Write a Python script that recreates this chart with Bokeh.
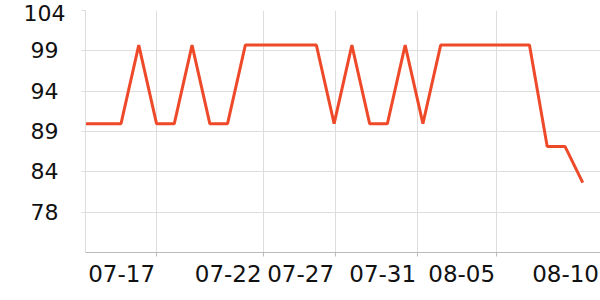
from bokeh.plotting import figure
from bokeh.models import Range1d, FixedTicker
from bokeh.embed import file_html
from bokeh.resources import INLINE

# data
idx = list(range(29))
values = [90, 90, 90, 100, 90, 90, 100, 90, 90, 100, 100, 100, 100, 100, 90,
          100, 90, 90, 100, 90, 100, 100, 100, 100, 100, 100, 87.1, 87.1, 82.5]

x_tick_pos = [4.0, 10.0, 14.08, 18.7, 23.15, 29.0]
x_tick_labels = ["07-17", "07-22", "07-27", "07-31", "08-05", "08-10"]
x_grid_pos = [4.0, 10.0, 14.08, 18.7, 23.15]

y_min, y_max = 73.6, 104.4
y_tick_pos = [78.73, 83.87, 89.0, 94.13, 99.27, 104.4]
y_tick_labels = ["78", "84", "89", "94", "99", "104"]

FONT = "DejaVu Sans"

p = figure(width=600, height=300, output_backend="svg", toolbar_location=None,
           x_range=Range1d(0, 29), y_range=Range1d(y_min, y_max))
p.min_border = 0
p.min_border_left = 85
p.min_border_right = 0
p.min_border_top = 10
p.min_border_bottom = 48
p.outline_line_color = None
p.background_fill_color = "white"
p.border_fill_color = "white"

# x axis: labels right-aligned to the tick -> place label centres half a label width left
px_per_x = 515 / 29.0
half_w = (66.8 / 2 + 1.5) / px_per_x
x_label_pos = [v - half_w for v in x_tick_pos]
p.xaxis.ticker = FixedTicker(ticks=x_label_pos, minor_ticks=x_grid_pos)
p.xaxis.major_label_overrides = {v: t for v, t in zip(x_label_pos, x_tick_labels)}
p.xaxis.major_tick_line_color = None
p.xaxis.major_tick_in = 0
p.xaxis.major_tick_out = 0
p.xaxis.minor_tick_in = 0
p.xaxis.minor_tick_out = 4
p.xaxis.minor_tick_line_color = "#bbbbbb"
p.xaxis.axis_line_color = "#bbbbbb"
p.xaxis.major_label_standoff = 8
p.xaxis.major_label_text_font = FONT
p.xaxis.major_label_text_font_size = "23px"
p.xaxis.major_label_text_color = "#111111"

# y axis: labels centred -> pad two-digit labels by half a digit
pad = "\u2008"
p.yaxis.ticker = FixedTicker(ticks=y_tick_pos)
p.yaxis.major_label_overrides = {v: (t if len(t) == 3 else t + pad)
                                 for v, t in zip(y_tick_pos, y_tick_labels)}
p.yaxis.major_tick_in = 0
p.yaxis.major_tick_out = 4
p.yaxis.minor_tick_line_color = None
p.yaxis.major_tick_line_color = "#dddddd"
p.yaxis.axis_line_color = "#dddddd"
p.yaxis.major_label_standoff = 16
p.yaxis.major_label_text_font = FONT
p.yaxis.major_label_text_font_size = "22px"
p.yaxis.major_label_text_color = "#111111"

p.xgrid.ticker = FixedTicker(ticks=x_grid_pos)
p.ygrid.ticker = FixedTicker(ticks=y_tick_pos)
p.xgrid.grid_line_color = "#dddddd"
p.ygrid.grid_line_color = "#dddddd"

p.line(idx, values, line_color="#ee4a2a", line_width=3)

open("out.html", "w").write(file_html(p, INLINE))
